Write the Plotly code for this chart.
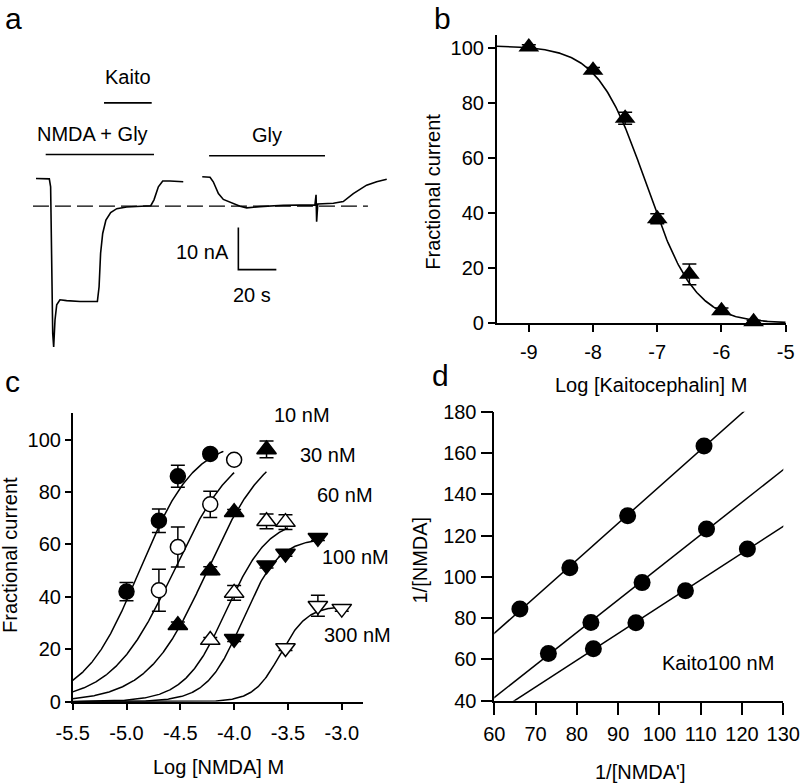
import numpy as np
import plotly.graph_objects as go

W, H = 800, 784
FONT = "Liberation Sans, Arial, Helvetica, sans-serif"
BLACK = "black"

# ---------------- panel a : current trace (time in s, current in nA) ----------------
trace1_t = [0.0, 7.0, 7.7, 8.8, 9.3, 10.0, 10.9, 12.6, 16.1, 23.2, 32.3, 33.2, 34.0, 35.1,
            36.8, 39.3, 42.5, 47.7, 60.4, 62.1, 64.4, 66.7, 70.5, 77.5]
trace1_i = [-0.1, -0.2, -2.1, -37.0, -40.2, -33.8, -30.2, -29.0, -29.2, -29.4, -29.4, -25.9,
            -17.9, -13.2, -10.0, -8.2, -7.3, -6.9, -6.6, -5.2, -2.1, -0.7, -0.7, -0.9]
trace2_t = [87.5, 91.6, 93.3, 96.0, 98.6, 102.1, 107.4, 110.9, 117.9, 130.2, 146.8, 147.4,
            147.7, 148.3, 156.5, 161.7, 167.0, 174.0, 179.3, 184.6]
trace2_i = [0.3, 0.2, -0.9, -3.7, -5.1, -5.8, -6.7, -7.1, -6.8, -6.5, -6.4, -4.0,
            -10.4, -6.2, -6.0, -5.6, -3.7, -1.7, -0.9, -0.3]
baseline_level = -6.7
baseline_span = [-1.6, 174.7]
stim_labels = ["NMDA + Gly", "Kaito", "Gly"]
stim_start = [5.1, 35.8, 91.1]
stim_end = [62.1, 60.9, 152.1]
stim_level = [5.6, 17.9, 5.3]
scale_nA = 10
scale_s = 20

# ---------------- panel b : inhibition curve ----------------
b_x = [-9, -8, -7.5, -7, -6.5, -6, -5.5]
b_y = [100.5, 92, 74.6, 38, 17.8, 4.6, 0.6]
b_err = [0.8, 1.0, 2.2, 1.8, 3.8, 1.0, 0.5]
b_fit = dict(top=101, logIC50=-7.17, hill=1.15)
b_ticks = [-9, -8, -7, -6, -5]

# ---------------- panel c : NMDA dose-response at various Kaito ----------------
c_series = [
    dict(name="control", x=[-5.0, -4.699, -4.523, -4.222], y=[42, 69, 86, 94.5],
         err=[3.5, 4.5, 4.2, 1.5], symbol="circle", fill=True,
         fit=dict(top=100, logEC50=-4.88, hill=1.7), fit_end=-4.1),
    dict(name="10 nM", x=[-4.699, -4.523, -4.222, -4.0], y=[42.5, 59, 75.3, 92.3],
         err=[8, 7.6, 5, 0], symbol="circle", fill=False,
         fit=dict(top=100, logEC50=-4.56, hill=1.5), fit_end=-4.0),
    dict(name="30 nM", x=[-4.523, -4.222, -4.0, -3.699], y=[29.2, 50, 72.3, 96.2],
         err=[1.2, 1.5, 1.0, 3.2], symbol="triangle-up", fill=True,
         fit=dict(top=100, logEC50=-4.25, hill=1.55), fit_end=-3.7),
    dict(name="60 nM", x=[-4.222, -4.0, -3.699, -3.523], y=[23.5, 41.5, 68.8, 68.5],
         err=[1.0, 2.8, 2.8, 2.8], symbol="triangle-up", fill=False,
         fit=dict(top=70, logEC50=-4.07, hill=2.2), fit_end=-3.5),
    dict(name="100 nM", x=[-4.0, -3.699, -3.523, -3.222], y=[24, 52, 56.5, 62.5],
         err=[1.0, 1.0, 1.0, 1.0], symbol="triangle-down", fill=True,
         fit=dict(top=62.5, logEC50=-3.92, hill=2.6), fit_end=-3.22),
    dict(name="300 nM", x=[-3.523, -3.222, -3.0], y=[20.5, 36.6, 35.5],
         err=[1.0, 4.0, 1.0], symbol="triangle-down", fill=False,
         fit=dict(top=36.5, logEC50=-3.57, hill=3.5), fit_end=-3.0),
]
c_ticks = [-5.5, -5.0, -4.5, -4.0, -3.5, -3.0]
c_labels = ["10 nM", "30 nM", "60 nM", "100 nM", "300 nM"]
c_label_pos = [(301.7, 415), (327.5, 455), (345, 495), (355, 557), (357.5, 635)]  # px

# ---------------- panel d : double reciprocal ----------------
d_series = [
    dict(x=[66.2, 78.3, 92.3, 110.8], y=[84.4, 104.4, 129.6, 163.4]),
    dict(x=[73.1, 83.4, 95.8, 111.4], y=[62.9, 77.9, 97.2, 123.2]),
    dict(x=[84.0, 94.3, 106.3, 121.3], y=[65.2, 77.8, 93.3, 113.5]),
]


def px(x):
    return x / W


def py(y):
    return 1 - y / H


fig = go.Figure()

# ---------- panel a ----------
for t, i in [(trace1_t, trace1_i), (trace2_t, trace2_i)]:
    fig.add_trace(go.Scatter(x=t, y=i, mode="lines", line=dict(color=BLACK, width=1.6),
                             xaxis="x", yaxis="y", showlegend=False, hoverinfo="skip"))
fig.add_trace(go.Scatter(x=baseline_span, y=[baseline_level] * 2, mode="lines",
                         line=dict(color=BLACK, width=1.4, dash="16px,6px"),
                         xaxis="x", yaxis="y", showlegend=False, hoverinfo="skip"))
for s0, s1, lv in zip(stim_start, stim_end, stim_level):
    fig.add_trace(go.Scatter(x=[s0, s1], y=[lv, lv], mode="lines",
                             line=dict(color=BLACK, width=1.6),
                             xaxis="x", yaxis="y", showlegend=False, hoverinfo="skip"))
sb_t0, sb_i0 = 106.5, -21.8
fig.add_trace(go.Scatter(x=[sb_t0, sb_t0, sb_t0 + scale_s], y=[sb_i0 + scale_nA, sb_i0, sb_i0],
                         mode="lines", line=dict(color=BLACK, width=1.6),
                         xaxis="x", yaxis="y", showlegend=False, hoverinfo="skip"))

# ---------- panel b ----------
bxx = np.linspace(-9.5, -5.0, 300)
byy = b_fit["top"] / (1 + 10 ** ((bxx - b_fit["logIC50"]) * b_fit["hill"]))
fig.add_trace(go.Scatter(x=bxx, y=byy, mode="lines", line=dict(color=BLACK, width=1.6),
                         xaxis="x2", yaxis="y2", showlegend=False, hoverinfo="skip"))
fig.add_trace(go.Scatter(x=b_x, y=b_y, mode="markers",
                         marker=dict(symbol="triangle-up", size=18, color=BLACK),
                         error_y=dict(type="data", array=b_err, width=7, thickness=1.5, color=BLACK),
                         xaxis="x2", yaxis="y2", showlegend=False, cliponaxis=False))

# ---------- panel c ----------
for s in c_series:
    f = s["fit"]
    xx = np.linspace(-5.5, s["fit_end"], 300)
    yy = f["top"] / (1 + 10 ** ((f["logEC50"] - xx) * f["hill"]))
    fig.add_trace(go.Scatter(x=xx, y=yy, mode="lines", line=dict(color=BLACK, width=1.5),
                             xaxis="x3", yaxis="y3", showlegend=False, hoverinfo="skip"))
for s in c_series:
    is_circle = s["symbol"] == "circle"
    fig.add_trace(go.Scatter(
        x=s["x"], y=s["y"], mode="markers",
        marker=dict(symbol=s["symbol"], size=15 if is_circle else 17,
                    color=BLACK if s["fill"] else "white",
                    line=dict(color=BLACK, width=1.5)),
        error_y=dict(type="data", array=s["err"], width=7, thickness=1.5, color=BLACK),
        xaxis="x3", yaxis="y3", showlegend=False, cliponaxis=False))

# ---------- panel d ----------
for s in d_series:
    k, b0 = np.polyfit(s["x"], s["y"], 1)
    xx = np.array([55.0, 135.0])
    fig.add_trace(go.Scatter(x=xx, y=k * xx + b0, mode="lines", line=dict(color=BLACK, width=1.5),
                             xaxis="x4", yaxis="y4", showlegend=False, hoverinfo="skip"))
    fig.add_trace(go.Scatter(x=s["x"], y=s["y"], mode="markers",
                             marker=dict(symbol="circle", size=17, color=BLACK),
                             xaxis="x4", yaxis="y4", showlegend=False, cliponaxis=False))

FS = 20
tickfont = dict(family=FONT, size=FS, color=BLACK)
common = dict(showline=True, linecolor=BLACK, linewidth=1.6, ticks="outside", tickcolor=BLACK,
              tickwidth=1.5, showgrid=False, zeroline=False, tickfont=tickfont)

fig.update_layout(
    width=W, height=H, margin=dict(l=0, r=0, t=0, b=0, autoexpand=False),
    paper_bgcolor="white", plot_bgcolor="white",
    font=dict(family=FONT, size=FS, color=BLACK),
    xaxis=dict(domain=[px(20), px(400)], range=[-8.42, 191.58], visible=False),
    yaxis=dict(domain=[py(360), py(60)], range=[-43.33, 28.1], visible=False),
    xaxis2=dict(domain=[px(496.7), px(785.7)], range=[-9.5, -5], tickvals=b_ticks,
                ticktext=[f"{v:d}".replace("\u2212", "-") for v in b_ticks],
                ticklen=7, anchor="y2", ticklabelstandoff=3, **common),
    yaxis2=dict(domain=[py(323.3), py(34.6)], range=[0, 105], tickvals=[0, 20, 40, 60, 80, 100],
                ticklen=7, anchor="x2", **common),
    xaxis3=dict(domain=[px(72.7), px(363.3)], range=[-5.5, -2.8],
                tickvals=c_ticks, ticktext=[f"{v:.1f}" for v in c_ticks],
                ticklen=6, anchor="y3", ticklabelstandoff=6, **common),
    yaxis3=dict(domain=[py(701.7), py(413.3)], range=[0, 110], tickvals=[0, 20, 40, 60, 80, 100],
                ticklen=6, anchor="x3", **common),
    xaxis4=dict(domain=[px(494.3), px(783.3)], range=[60, 130], tickvals=list(range(60, 131, 10)),
                ticklen=12, anchor="y4", ticklabelstandoff=2, **common),
    yaxis4=dict(domain=[py(700.7), py(411.7)], range=[40, 180], tickvals=list(range(40, 181, 20)),
                ticklen=12, anchor="x4", **common),
)

ann = []


def add_text(text, x, y, size=FS, xanchor="center", angle=0, yanchor="middle"):
    ann.append(dict(text=text, x=px(x), y=py(y), xref="paper", yref="paper", showarrow=False,
                    xanchor=xanchor, yanchor=yanchor, textangle=angle,
                    font=dict(family=FONT, size=size, color=BLACK)))


# panel letters
add_text("a", 13.5, 0, size=30, yanchor="top")
add_text("b", 442, 0, size=30, yanchor="top")
add_text("c", 12.5, 381, size=30)
add_text("d", 440, 375, size=30)

# panel a labels (data coords)
for lab, s0, s1, lv in zip(stim_labels, stim_start, stim_end, stim_level):
    ann.append(dict(text=lab, x=(s0 + s1) / 2 if lab != "NMDA + Gly" else 29.5,
                    y=lv + 5.0 if lab != "Kaito" else lv + 6.1,
                    xref="x", yref="y", showarrow=False, xanchor="center", yanchor="middle",
                    font=dict(family=FONT, size=20, color=BLACK)))
ann.append(dict(text=f"{scale_nA} nA", x=sb_t0 - 3.9, y=sb_i0 + scale_nA / 2 - 0.8, xref="x", yref="y",
                showarrow=False, xanchor="right", yanchor="middle",
                font=dict(family=FONT, size=20, color=BLACK)))
ann.append(dict(text=f"{scale_s} s", x=sb_t0 + 7.2, y=sb_i0 - 6.1, xref="x", yref="y",
                showarrow=False, xanchor="center", yanchor="middle",
                font=dict(family=FONT, size=20, color=BLACK)))

# axis titles
add_text("Fractional current", 433, 191.7, angle=-90)
add_text("Log [Kaitocephalin] M", 650.8, 385)
add_text("Fractional current", 10, 555, angle=-90)
add_text("Log [NMDA] M", 218, 766.7)
add_text("1/[NMDA]", 419.5, 560, angle=-90)
add_text("1/[NMDA']", 640.8, 771.7)

# panel c concentration labels
for lab, (xx, yy) in zip(c_labels, c_label_pos):
    add_text(lab, xx, yy)

# panel d label
add_text("Kaito100 nM", 717.5, 663.3)

fig.update_layout(annotations=ann)
fig.write_html("out.html", config={"displayModeBar": False},
               post_script="document.body.style.margin='0';document.body.style.overflow='hidden';")
